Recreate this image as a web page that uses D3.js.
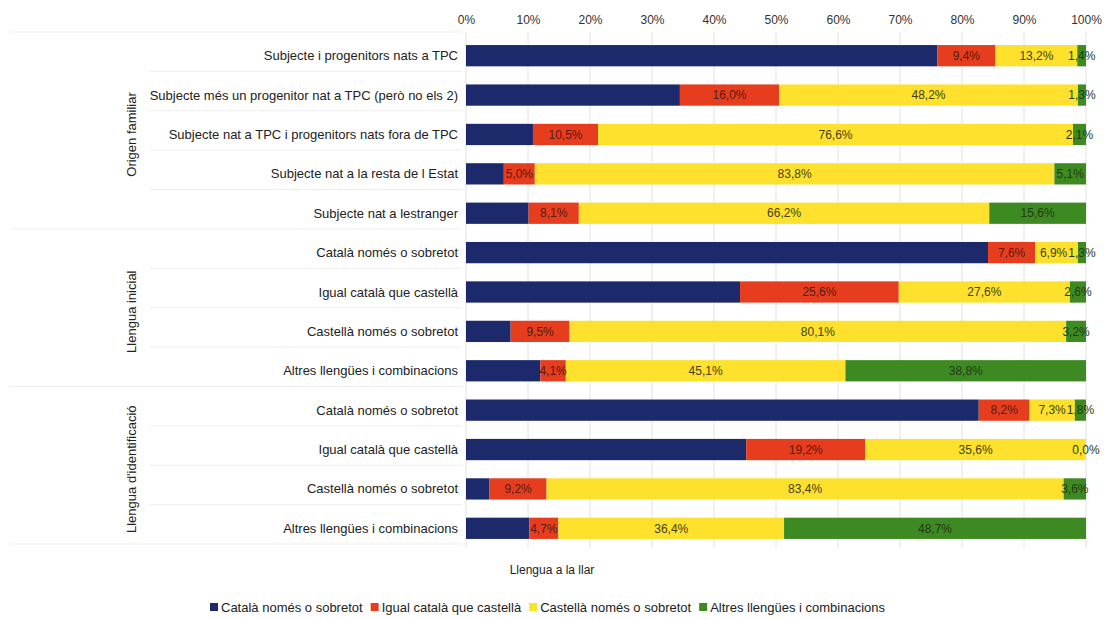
<!DOCTYPE html>
<html>
<head>
<meta charset="utf-8">
<script src="https://cdn.jsdelivr.net/npm/d3@7"></script>
<style>
  html, body { margin: 0; padding: 0; background: #fff; }
  svg { display: block; font-family: "Liberation Sans", Arial, sans-serif; }
</style>
</head>
<body>
<svg id="chart" width="1117" height="620"></svg>
<script>
// Row categories, listed from the top row down
const categories = [
  "Subjecte i progenitors nats a TPC",
  "Subjecte més un progenitor nat a TPC (però no els 2)",
  "Subjecte nat a TPC i progenitors nats fora de TPC",
  "Subjecte nat a la resta de l Estat",
  "Subjecte nat a lestranger",
  "Català només o sobretot",
  "Igual català que castellà",
  "Castellà només o sobretot",
  "Altres llengües i combinacions",
  "Català només o sobretot",
  "Igual català que castellà",
  "Castellà només o sobretot",
  "Altres llengües i combinacions"
];
const groupNames = ["Origen familiar", "Llengua inicial", "Llengua d'identificació"];
const groupSizes = [5, 4, 4];

const seriesNames = [
  "Català només o sobretot",
  "Igual català que castellà",
  "Castellà només o sobretot",
  "Altres llengües i combinacions"
];
const catala   = [76.0, 34.5, 10.8, 6.1, 10.1, 84.2, 44.2, 7.2, 12.0, 82.7, 45.2, 3.8, 10.2];
const igual    = [9.4, 16.0, 10.5, 5.0, 8.1, 7.6, 25.6, 9.5, 4.1, 8.2, 19.2, 9.2, 4.7];
const castella = [13.2, 48.2, 76.6, 83.8, 66.2, 6.9, 27.6, 80.1, 45.1, 7.3, 35.6, 83.4, 36.4];
const altres   = [1.4, 1.3, 2.1, 5.1, 15.6, 1.3, 2.6, 3.2, 38.8, 1.8, 0.0, 3.6, 48.7];

const tickValues = [0, 10, 20, 30, 40, 50, 60, 70, 80, 90, 100];
const axisTitle = "Llengua a la llar";

const colors = ["#1c2a6c", "#e63d1e", "#fde12c", "#3d8a22"];

(function draw() {
  const svg = d3.select("#chart");

  const plotLeft = 466, plotRight = 1086, plotTop = 36, plotBottom = 548;

  const x = d3.scaleLinear().domain([0, 100]).range([plotLeft, plotRight]);
  const idx = d3.range(categories.length);
  const y = d3.scaleBand().domain(idx).range([plotTop, plotBottom]).paddingInner(0.46).paddingOuter(0.23);

  // Stacked table built from the series arrays
  const table = idx.map(i => ({ i, s0: catala[i], s1: igual[i], s2: castella[i], s3: altres[i] }));
  const stacked = d3.stack().keys(["s0", "s1", "s2", "s3"])(table);

  // Vertical gridlines
  svg.append("g")
    .selectAll("line")
    .data(tickValues)
    .join("line")
    .attr("x1", d => x(d)).attr("x2", d => x(d))
    .attr("y1", plotTop - 4).attr("y2", plotBottom)
    .attr("stroke", "#e2e2e2").attr("stroke-width", 1);

  // Top axis tick labels
  const axis = d3.axisTop(x).tickValues(tickValues).tickFormat(d => d + "%").tickSize(0).tickPadding(0);
  const axG = svg.append("g").attr("transform", "translate(0, 24)").call(axis);
  axG.select(".domain").remove();
  axG.selectAll("text").attr("font-size", 12).attr("fill", "#333")
    .attr("font-family", "Liberation Sans, Arial, sans-serif");

  // Category separators on the label side
  const rowH = (plotBottom - plotTop) / categories.length;
  const groupEdges = [0];
  groupSizes.reduce((acc, n) => { groupEdges.push(acc + n); return acc + n; }, 0);
  svg.append("g")
    .selectAll("line")
    .data(d3.range(categories.length + 1))
    .join("line")
    .attr("x1", k => groupEdges.includes(k) ? 10 : 150)
    .attr("x2", plotLeft - 4)
    .attr("y1", k => plotTop + k * rowH - 4).attr("y2", k => plotTop + k * rowH - 4)
    .attr("stroke", "#ededed").attr("stroke-width", 1);

  // Bars
  svg.append("g").selectAll("g")
    .data(stacked)
    .join("g")
    .attr("fill", (d, k) => colors[k])
    .selectAll("rect")
    .data(d => d)
    .join("rect")
    .attr("x", d => x(d[0]))
    .attr("width", d => Math.max(0, x(d[1]) - x(d[0])))
    .attr("y", d => y(d.data.i))
    .attr("height", y.bandwidth());

  // Value labels (the navy segments carry no readable label)
  const fmt = v => d3.format(".1f")(v).replace(".", ",") + "%";
  const labelG = svg.append("g");
  const labelSel = [];
  stacked.forEach((layer, k) => {
    if (k === 0) return;
    labelSel[k] = labelG.append("g").selectAll("text")
      .data(layer)
      .join("text")
      .attr("x", d => (x(d[0]) + x(d[1])) / 2)
      .attr("y", d => y(d.data.i) + y.bandwidth() / 2)
      .attr("dy", "0.35em")
      .attr("text-anchor", "middle")
      .attr("font-size", 12)
      .attr("fill", k === 1 ? "#5a1a10" : (k === 3 ? "#243a14" : "#45401c"))
      .text(d => fmt(d[1] - d[0]));
  });
  // Nudge a label left when it would run into the next segment's label
  for (let k = 3; k >= 2; k--) {
    const rightNodes = labelSel[k].nodes();
    labelSel[k - 1].each(function(d, i) {
      const a = this, b = rightNodes[i];
      const aw = a.getComputedTextLength(), bw = b.getComputedTextLength();
      const ax = +a.getAttribute("x"), bx = +b.getAttribute("x");
      const overlap = (ax + aw / 2) - (bx - bw / 2) + 1;
      if (overlap > 0) a.setAttribute("x", ax - overlap);
    });
  }

  // Category labels
  svg.append("g")
    .selectAll("text")
    .data(idx)
    .join("text")
    .attr("x", plotLeft - 8)
    .attr("y", i => y(i) + y.bandwidth() / 2)
    .attr("dy", "0.35em")
    .attr("text-anchor", "end")
    .attr("font-size", 13)
    .attr("fill", "#222")
    .text(i => categories[i]);

  // Group labels, rotated
  let start = 0;
  groupNames.forEach((g, k) => {
    const first = start, last = start + groupSizes[k] - 1;
    const cy = (y(first) + y(last) + y.bandwidth()) / 2;
    svg.append("text")
      .attr("transform", `translate(136, ${cy}) rotate(-90)`)
      .attr("text-anchor", "middle")
      .attr("font-size", 13)
      .attr("fill", "#222")
      .text(g);
    start += groupSizes[k];
  });

  // Axis title
  svg.append("text")
    .attr("x", 552).attr("y", 574)
    .attr("text-anchor", "middle")
    .attr("font-size", 12)
    .attr("fill", "#222")
    .text(axisTitle);

  // Legend
  const legend = svg.append("g").attr("transform", "translate(210, 612)");
  let lx = 0;
  seriesNames.forEach((name, k) => {
    const item = legend.append("g").attr("transform", `translate(${lx}, 0)`);
    item.append("rect").attr("x", 0).attr("y", -9).attr("width", 8).attr("height", 8).attr("fill", colors[k]);
    const t = item.append("text").attr("x", 11).attr("y", 0).attr("font-size", 13).attr("fill", "#222").text(name);
    lx += 11 + t.node().getComputedTextLength() + 8;
  });
})();
</script>
</body>
</html>
